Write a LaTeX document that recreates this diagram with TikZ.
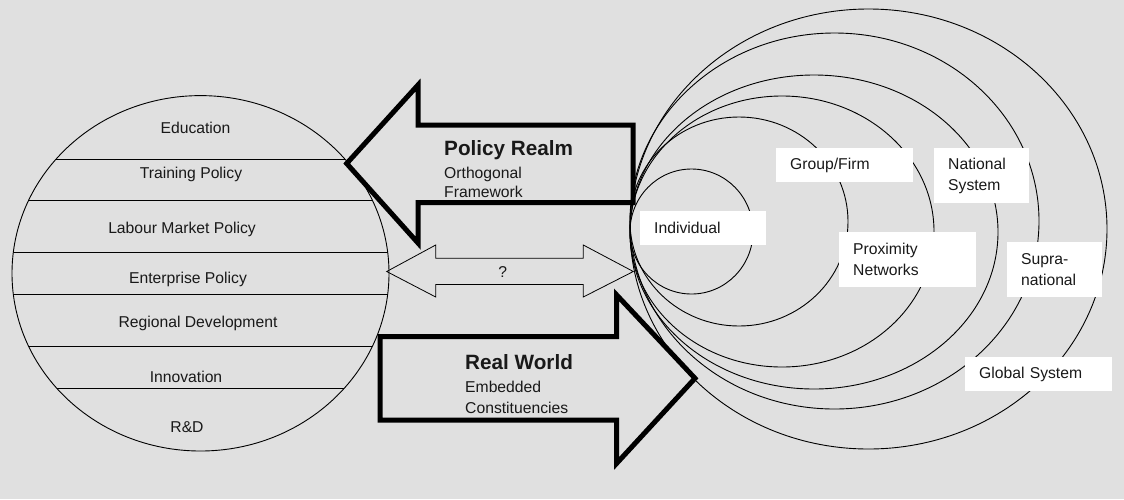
\documentclass[tikz,border=0pt]{standalone}
\usepackage{fontspec}
\setmainfont{Liberation Sans}
\definecolor{bgcol}{RGB}{224,224,224}
\begin{document}
\begin{tikzpicture}[x=1pt,y=-1pt,
  outline/.style={line width=0.9pt, draw=black},
  bigarrow/.style={line width=5pt, draw=black, line join=miter},
  hollowarrow/.style={line width=0.8pt, draw=black, line join=miter},
  txt/.style={font=\fontsize{15.7}{20}\selectfont, inner sep=0pt, text=black!90},
  headtxt/.style={font=\fontsize{20.7}{24}\selectfont\bfseries, inner sep=0pt, text=black!90},
  boxlabel/.style={fill=white, draw=none, font=\fontsize{15.7}{21}\selectfont,
    inner xsep=14pt, inner ysep=0pt, align=left, anchor=north west, text=black!90}
]
% canvas
\fill[bgcol] (0,0) rectangle (1124,499);
\useasboundingbox (0,0) rectangle (1124,499);

% policy areas: the left disc cut into bands
\begin{scope}
  \clip (200.5,273.3) ellipse [x radius=188.5pt, y radius=177.7pt];
  \foreach \yy in {159,200.7,252.7,294.3,346.7,388.3}
    \draw[outline] (0,\yy) -- (400,\yy);
\end{scope}
\draw[outline] (200.5,273.3) ellipse [x radius=188.5pt, y radius=177.7pt];

\node[txt] (edu) at (195.5,127.5) {Education};
\node[txt] (train) at (191,174.5) {Training Policy};
\node[txt] (labour) at (182,229.5) {Labour Market Policy};
\node[txt] (enter) at (188,279.5) {Enterprise Policy};
\node[txt] (region) at (198,323) {Regional Development};
\node[txt] (innov) at (186,376.5) {Innovation};
\node[txt] (rd) at (187,427.5) {R\&D};

% nested levels on the right
\draw[outline] (691.5,231.5) ellipse [x radius=61.5pt, y radius=62.5pt];
\draw[outline] (739,221.5) ellipse [x radius=109pt, y radius=104.5pt];
\draw[outline] (782,231.5) ellipse [x radius=152pt, y radius=135.5pt];
\draw[outline] (814,232) ellipse [x radius=184pt, y radius=157pt];
\draw[outline] (834.5,221) ellipse [x radius=204.5pt, y radius=188pt];
\draw[outline] (868.5,229) ellipse [x radius=238.5pt, y radius=220pt];

\node[boxlabel, minimum width=126pt, minimum height=34pt, text width=98pt] (indiv) at (640,211) {Individual};
\node[boxlabel, minimum width=137pt, minimum height=34pt, text width=109pt] (group) at (776,148) {Group/Firm};
\node[boxlabel, minimum width=95pt, minimum height=55pt, text width=67pt] (nation) at (934,148) {National\\System};
\node[boxlabel, minimum width=137pt, minimum height=55pt, text width=109pt] (prox) at (839,232) {Proximity\\Networks};
\node[boxlabel, minimum width=95pt, minimum height=55pt, text width=67pt] (supra) at (1007,242) {Supra-\\national};
\node[boxlabel, minimum width=147pt, minimum height=34pt, text width=119pt] (global) at (965,357) {Global System};

% policy realm arrow (pointing left)
\draw[bigarrow] (346.7,163.5) -- (418,85) -- (418,125) -- (633,125) -- (633,202.7)
  -- (418,202.7) -- (418,243) -- cycle;
\node[headtxt, anchor=mid west] (policy) at (444,152.5) {Policy Realm};
\node[txt, anchor=mid west] (ortho) at (444,176) {Orthogonal};
\node[txt, anchor=mid west] (frame) at (444,195.3) {Framework};

% two-way arrow
\draw[hollowarrow] (386.7,271.5) -- (435.7,245) -- (435.7,258.3) -- (583.3,258.3)
  -- (583.3,245) -- (633.3,271.5) -- (583.3,297) -- (583.3,284.5) -- (435.7,284.5)
  -- (435.7,297) -- cycle;
\node[txt] (query) at (502.7,272.5) {?};

% real world arrow (pointing right)
\draw[bigarrow] (380,336.7) -- (616.7,336.7) -- (616.7,295) -- (695,378.3)
  -- (616.7,463.3) -- (616.7,420) -- (380,420) -- cycle;
\node[headtxt, anchor=mid west] (real) at (465,367) {Real World};
\node[txt, anchor=mid west] (embed) at (465,390) {Embedded};
\node[txt, anchor=mid west] (const) at (465,411) {Constituencies};
\end{tikzpicture}
\end{document}
